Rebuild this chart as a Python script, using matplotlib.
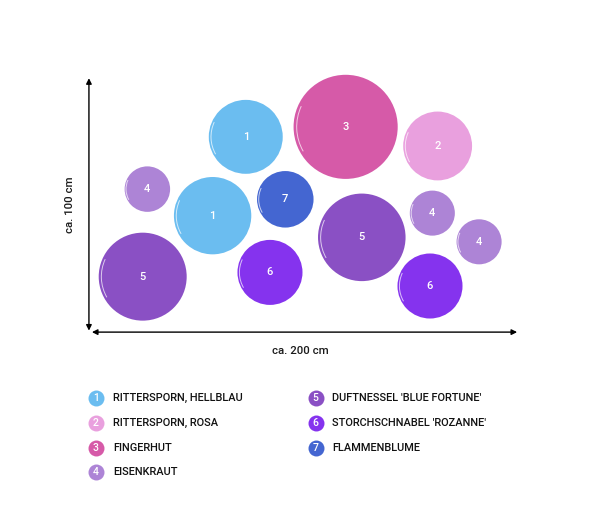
import matplotlib
matplotlib.use("Agg")
import matplotlib.pyplot as plt
from matplotlib.patches import Circle, Arc

plt.rcParams['font.family'] = ['Roboto', 'DejaVu Sans']

# plant positions in cm (x: width, y: depth), radii in cm, plant id
plant_ids = [1, 3, 2, 4, 1, 7, 5, 4, 4, 5, 6, 6]
x_cm = [73.3, 120.3, 163.6, 27.0, 57.7, 91.9, 127.9, 161.1, 183.1, 24.8, 84.7, 160.0]
y_cm = [91.4, 96.1, 87.1, 66.8, 54.3, 62.0, 44.1, 55.5, 42.0, 25.6, 27.6, 21.2]
r_cm = [17.4, 24.5, 16.2, 10.7, 18.2, 13.3, 20.6, 10.6, 10.6, 20.7, 15.3, 15.3]

legend_ids = [1, 2, 3, 4, 5, 6, 7]
legend_names = ["RITTERSPORN, HELLBLAU", "RITTERSPORN, ROSA", "FINGERHUT", "EISENKRAUT",
                "DUFTNESSEL 'BLUE FORTUNE'", "STORCHSCHNABEL 'ROZANNE'", "FLAMMENBLUME"]
colors = {1: "#6BBDF0", 2: "#E9A0DE", 3: "#D65AA8", 4: "#AD84D6",
          5: "#8A50C4", 6: "#8533EE", 7: "#4466D1"}

width_label = "ca. 200 cm"
depth_label = "ca. 100 cm"
width_cm = 200

fig = plt.figure(figsize=(6, 5.14), dpi=100)
ax = fig.add_axes([0, 0, 1, 1])
ax.set_xlim(-42.35, 240)
ax.set_ylim(-86.1, 155.8)
ax.axis('off')

for pid, x, y, r in zip(plant_ids, x_cm, y_cm, r_cm):
    c = colors[pid]
    ax.add_patch(Circle((x, y), r, color=c, lw=0))
    ax.add_patch(Arc((x, y), 2 * r * 0.94, 2 * r * 0.94, theta1=155, theta2=210,
                     color='white', lw=0.7, alpha=0.7))
    ax.text(x, y, str(pid), color='white', fontsize=8, ha='center', va='center',
            fontweight='medium')

# dimension arrows
ax.annotate('', xy=(-0.5, 119.0), xytext=(-0.5, 0.2),
            arrowprops=dict(arrowstyle='<|-|>', color='black', lw=1.0,
                            mutation_scale=8, shrinkA=0, shrinkB=0))
ax.annotate('', xy=(width_cm + 1, -0.5), xytext=(0.9, -0.5),
            arrowprops=dict(arrowstyle='<|-|>', color='black', lw=1.0,
                            mutation_scale=8, shrinkA=0, shrinkB=0))
ax.text(width_cm / 2 - 1, -9.5, width_label, fontsize=8.2, ha='center', va='center',
        color='#1a1a1a', fontweight='medium')
ax.text(-9.5, 59.5, depth_label, fontsize=8.2, ha='center', va='center', rotation=90,
        color='#1a1a1a', fontweight='medium')

# legend
col_x = [0.16, 0.526]
text_x = [0.188, 0.554]
row_y = [0.225, 0.1776, 0.129, 0.0823]
for i, (pid, name) in enumerate(zip(legend_ids, legend_names)):
    col = 0 if i < 4 else 1
    row = i if i < 4 else i - 4
    ax.plot([col_x[col]], [row_y[row]], marker='o', markersize=11.5, color=colors[pid],
            mec='none', transform=fig.transFigure)
    ax.text(col_x[col], row_y[row], str(pid), color='white', fontsize=7.5, ha='center',
            va='center', transform=fig.transFigure, fontweight='medium')
    ax.text(text_x[col], row_y[row], name, color='#111111', fontsize=7.9, ha='left',
            va='center', transform=fig.transFigure, fontweight='medium')

fig.savefig("out.png", dpi=100)
